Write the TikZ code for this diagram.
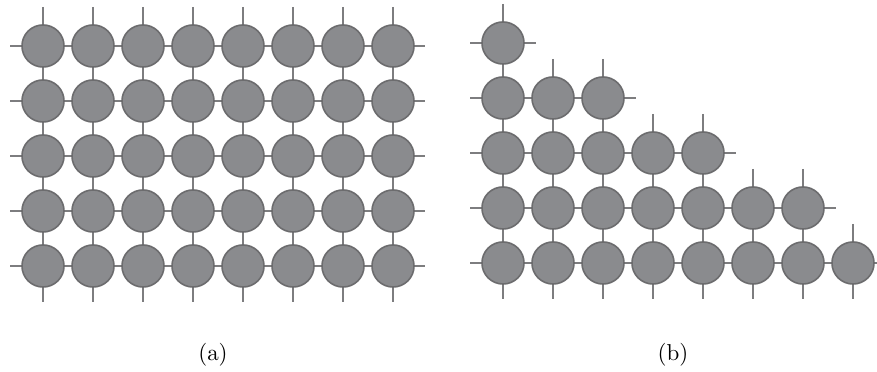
\documentclass[tikz,border=0pt]{standalone}
\usetikzlibrary{backgrounds}
\definecolor{ballgray}{RGB}{138,139,142}
\definecolor{rimgray}{RGB}{108,108,110}
\definecolor{wiregray}{RGB}{125,125,127}
\begin{document}
\begin{tikzpicture}[x=0.435pt,y=-0.435pt,
  ball/.style={circle,fill=ballgray,draw=rimgray,line width=0.7pt,minimum size=18.3pt,inner sep=0pt},
  wire/.style={draw=wiregray,line width=0.85pt}]
 \useasboundingbox (0,0) rectangle (877,372);
 % (a) full lattice
 \foreach \j in {1,...,5} \foreach \i in {1,...,8}
  \node[ball] (a-\i-\j) at ({43+50*(\i-1)},{46+55*(\j-1)}) {};
 % (b) staircase
 \foreach \j/\n in {1/1,2/3,3/5,4/7,5/8} \foreach \i in {1,...,\n}
  \node[ball] (b-\i-\j) at ({503+50*(\i-1)},{43+55*(\j-1)}) {};
 \begin{pgfonlayer}{background}
  % rows of (a)
  \foreach \j in {1,...,5} {
   \path (a-1-\j) ++(-33,0) coordinate (aw\j);
   \path (a-8-\j) ++(32,0) coordinate (ae\j);
   \draw[wire] (aw\j) -- (a-1-\j);
   \draw[wire] (a-8-\j) -- (ae\j);
   \foreach \i [count=\k from 2] in {1,...,7}
    \draw[wire] (a-\i-\j) -- (a-\k-\j);
  }
  % columns of (a)
  \foreach \i in {1,...,8} {
   \path (a-\i-1) ++(0,-39) coordinate (an\i);
   \path (a-\i-5) ++(0,36) coordinate (as\i);
   \draw[wire] (an\i) -- (a-\i-1);
   \draw[wire] (a-\i-5) -- (as\i);
   \foreach \j [count=\k from 2] in {1,...,4}
    \draw[wire] (a-\i-\j) -- (a-\i-\k);
  }
  % rows of (b)
  \foreach \j/\n in {1/1,2/3,3/5,4/7,5/8} {
   \path (b-1-\j) ++(-33,0) coordinate (bw\j);
   \path (b-\n-\j) ++(33,0) coordinate (be\j);
   \draw[wire] (bw\j) -- (b-1-\j);
   \draw[wire] (b-\n-\j) -- (be\j);
  }
  \foreach \j/\n in {2/3,3/5,4/7,5/8} \foreach \i [count=\k from 2] in {1,...,\numexpr\n-1\relax}
   \draw[wire] (b-\i-\j) -- (b-\k-\j);
  % columns of (b)
  \foreach \j/\n [count=\k from 2] in {1/1,2/3,3/5,4/7} \foreach \i in {1,...,\n}
   \draw[wire] (b-\i-\j) -- (b-\i-\k);
  \foreach \j/\p/\n in {1/1/1,2/2/3,3/4/5,4/6/7,5/8/8} \foreach \i in {\p,...,\n} {
   \path (b-\i-\j) ++(0,-39) coordinate (bn\i-\j);
   \draw[wire] (bn\i-\j) -- (b-\i-\j);
  }
  \foreach \i in {1,...,8} {
   \path (b-\i-5) ++(0,36) coordinate (bs\i);
   \draw[wire] (b-\i-5) -- (bs\i);
  }
 \end{pgfonlayer}
 \node (la) at (213,355) {(a)};
 \node (lb) at (673,355) {(b)};
\end{tikzpicture}
\end{document}
